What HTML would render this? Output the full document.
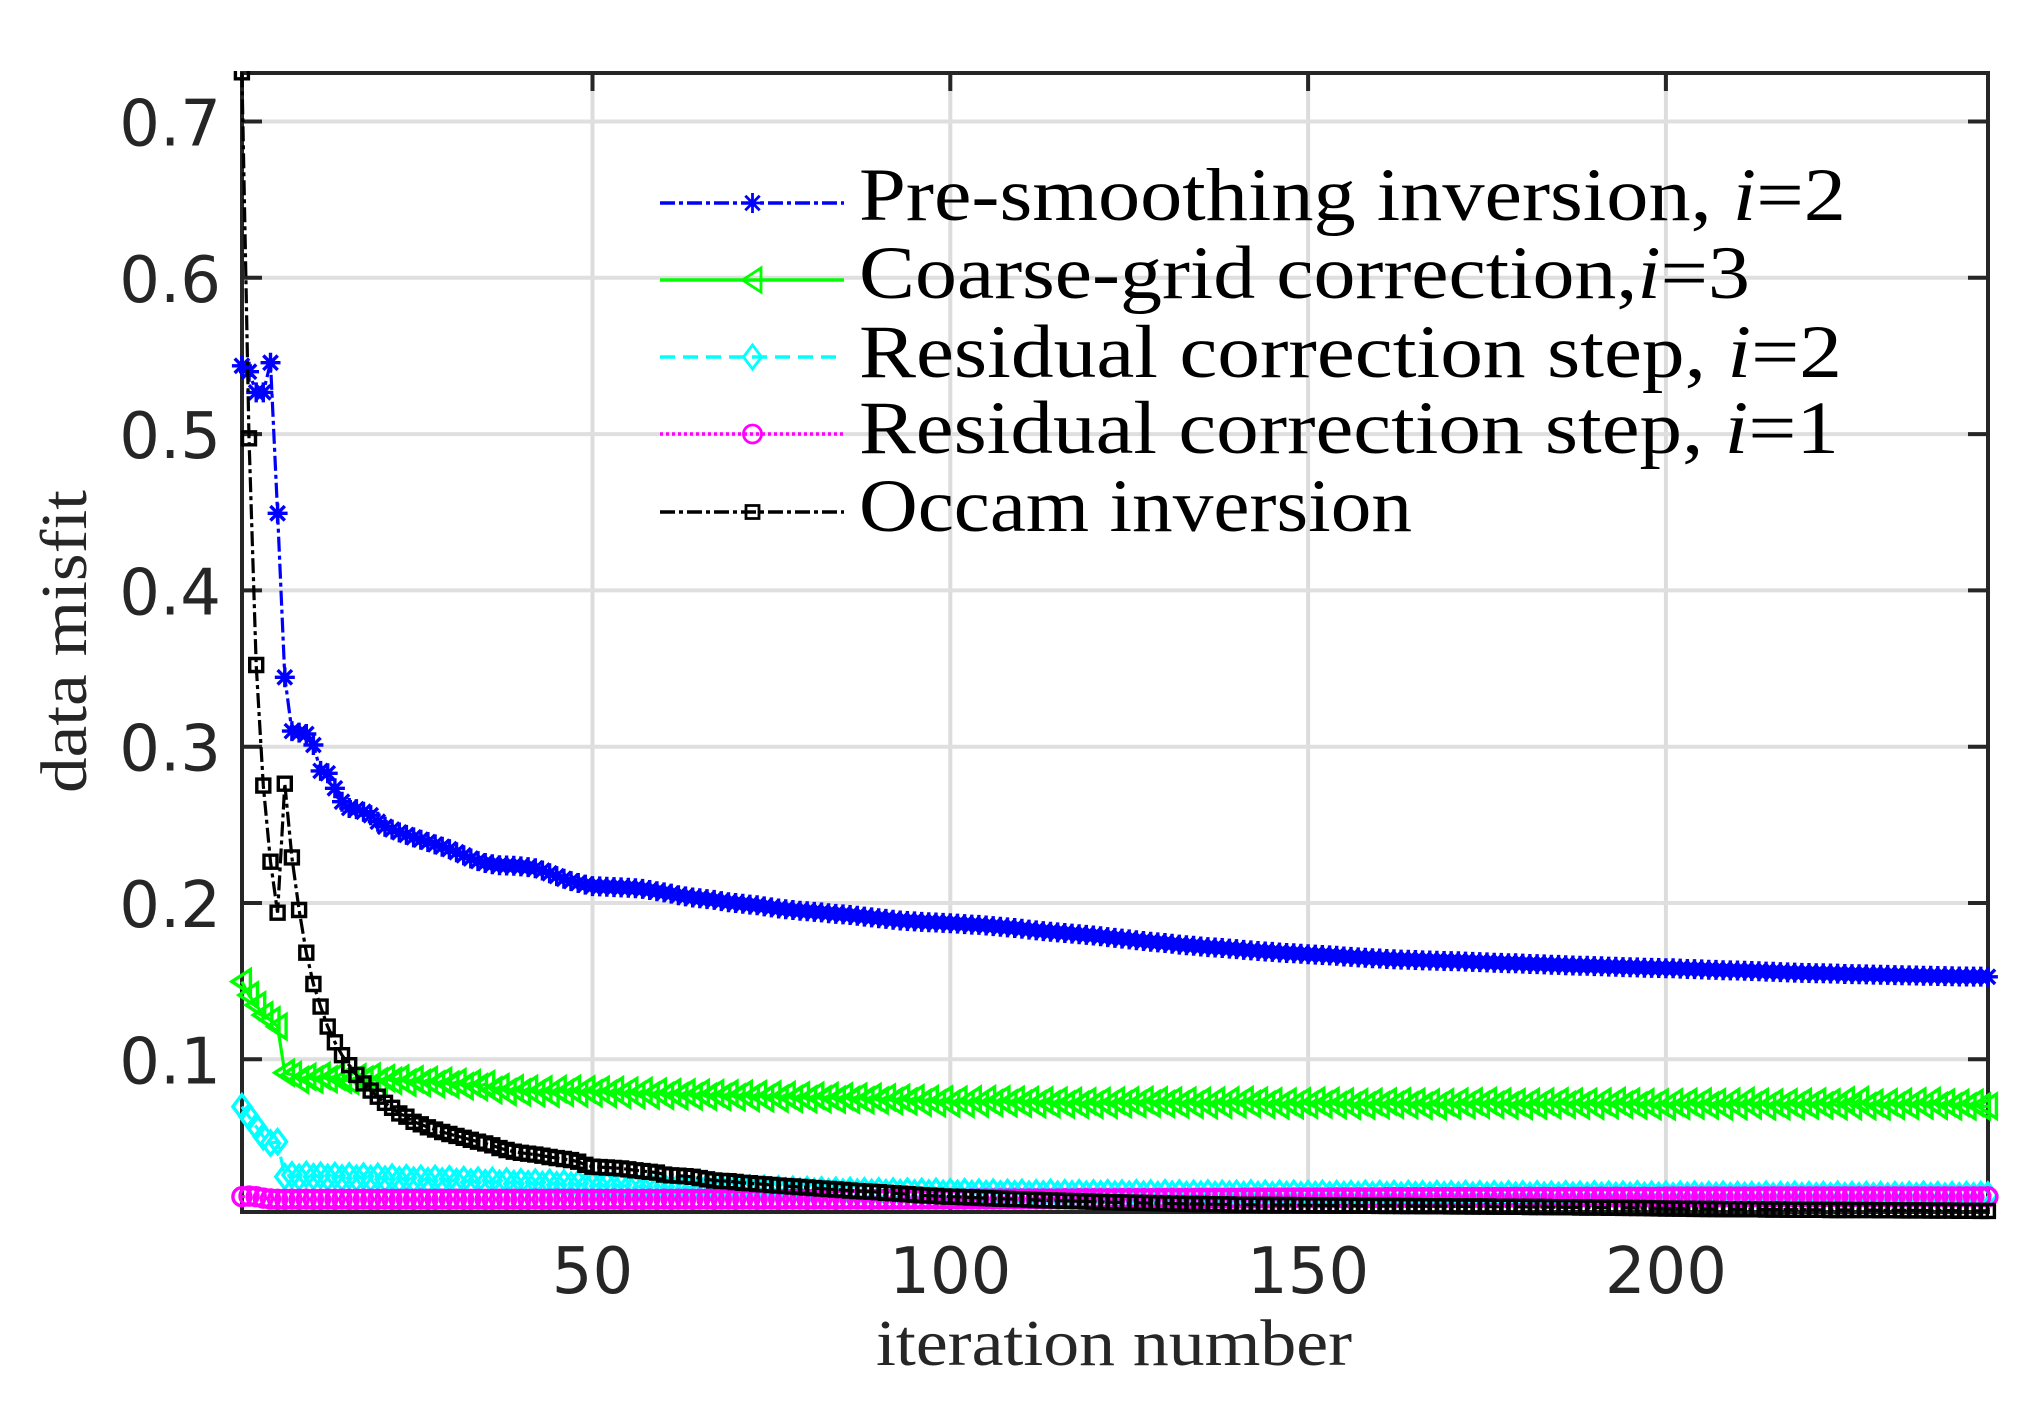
<!DOCTYPE html>
<html lang="en">
<head>
<meta charset="utf-8">
<title>Data misfit vs iteration number</title>
<style>
html,body{margin:0;padding:0;background:#fff;width:2028px;height:1406px;overflow:hidden}
svg{display:block}
.tick{font-family:"DejaVu Sans",sans-serif;font-size:64px;fill:#262626}
.axt{font-family:"Liberation Serif",serif;font-size:66px;fill:#262626}
.leg{font-family:"Liberation Serif",serif;font-size:75px;fill:#000}
</style>
</head>
<body>
<svg id="chart" xmlns="http://www.w3.org/2000/svg" width="2028" height="1406" viewBox="0 0 2028 1406">
  <defs>
    <clipPath id="top-clip"><rect x="0" y="71" width="2028" height="1335"/></clipPath>
  </defs>
  <rect x="0" y="0" width="2028" height="1406" fill="#fff"/>
  <g id="grid"></g>
  <g id="ticks"></g>
  <rect x="242" y="73" width="1746" height="1139" fill="none" stroke="#262626" stroke-width="4"/>
  <g id="labels"></g>
  <text class="axt" x="876" y="1365" textLength="476" lengthAdjust="spacingAndGlyphs">iteration number</text>
  <text class="axt" transform="translate(86,793) rotate(-90)" x="0" y="0" textLength="303" lengthAdjust="spacingAndGlyphs">data misfit</text>
  <g id="series" clip-path="url(#top-clip)"></g>
  <g id="legend">
    <text class="leg" x="859" y="220" textLength="987" lengthAdjust="spacingAndGlyphs">Pre-smoothing inversion, <tspan font-style="italic">i</tspan>=2</text>
    <text class="leg" x="859" y="298" textLength="891" lengthAdjust="spacingAndGlyphs">Coarse-grid correction,<tspan font-style="italic">i</tspan>=3</text>
    <text class="leg" x="859" y="377" textLength="983" lengthAdjust="spacingAndGlyphs">Residual correction step, <tspan font-style="italic">i</tspan>=2</text>
    <text class="leg" x="859" y="453" textLength="980" lengthAdjust="spacingAndGlyphs">Residual correction step, <tspan font-style="italic">i</tspan>=1</text>
    <text class="leg" x="859" y="531" textLength="553" lengthAdjust="spacingAndGlyphs">Occam inversion</text>
  </g>
</svg>
<script>
const xTicks = [50, 100, 150, 200];
const yTicks = [0.1, 0.2, 0.3, 0.4, 0.5, 0.6, 0.7];
const yTickLabels = ["0.1", "0.2", "0.3", "0.4", "0.5", "0.6", "0.7"];

const preSmoothing = [
.5437,.5399,.5267,.5267,.5457,.4493,.3444,.3100,.3090,.3081,
.3011,.2845,.2830,.2734,.2648,.2608,.2601,.2584,.2562,.2520,
.2488,.2470,.2452,.2436,.2420,.2405,.2390,.2375,.2360,.2345,
.2325,.2305,.2285,.2268,.2256,.2248,.2242,.2240,.2238,.2234,
.2230,.2222,.2208,.2190,.2172,.2155,.2140,.2128,.2118,.2108,
.2106,.2104,.2102,.2100,.2098,.2095,.2090,.2083,.2075,.2068,
.2060,.2050,.2042,.2035,.2030,.2025,.2020,.2012,.2005,.2000,
.1995,.1990,.1985,.1978,.1972,.1965,.1960,.1955,.1950,.1947,
.1943,.1940,.1935,.1930,.1927,.1923,.1918,.1913,.1908,.1903,
.1898,.1893,.1888,.1885,.1882,.1879,.1877,.1875,.1873,.1871,
.1868,.1865,.1862,.1860,.1856,.1852,.1848,.1844,.1840,.1835,
.1830,.1825,.1820,.1816,.1812,.1808,.1804,.1800,.1796,.1792,
.1787,.1782,.1777,.1772,.1767,.1762,.1757,.1752,.1748,.1744,
.1739,.1734,.1730,.1727,.1722,.1718,.1715,.1712,.1708,.1705,
.1700,.1697,.1693,.1690,.1687,.1683,.1680,.1678,.1675,.1672,
.1670,.1667,.1665,.1662,.1658,.1655,.1652,.1650,.1647,.1645,
.1642,.1640,.1638,.1637,.1635,.1633,.1632,.1630,.1629,.1628,
.1627,.1625,.1623,.1622,.1620,.1618,.1617,.1615,.1614,.1612,
.1610,.1609,.1607,.1605,.1604,.1602,.1600,.1599,.1598,.1596,
.1595,.1593,.1592,.1590,.1589,.1588,.1586,.1585,.1584,.1583,
.1582,.1580,.1578,.1577,.1575,.1573,.1572,.1570,.1569,.1568,
.1566,.1565,.1563,.1561,.1560,.1558,.1556,.1555,.1553,.1552,
.1551,.1550,.1549,.1548,.1546,.1545,.1544,.1543,.1542,.1541,
.1540,.1539,.1538,.1537,.1536,.1535,.1534,.1533,.1532,.1531,
.1530,.1530,.1529,.1529,.1528
];

const coarseGrid = [
.1497,.1411,.1347,.1283,.1251,.1209,.0914,.0900,.0868,.0888,
.0870,.0895,.0872,.0892,.0868,.0862,.0885,.0870,.0890,.0858,
.0880,.0862,.0878,.0850,.0872,.0848,.0868,.0840,.0862,.0838,
.0855,.0828,.0848,.0822,.0842,.0802,.0822,.0790,.0815,.0788,
.0812,.0782,.0808,.0780,.0810,.0785,.0812,.0780,.0808,.0782,
.0806,.0778,.0804,.0772,.0800,.0770,.0798,.0768,.0794,.0766,
.0790,.0764,.0788,.0762,.0786,.0760,.0784,.0758,.0782,.0756,
.0780,.0752,.0778,.0750,.0776,.0748,.0772,.0746,.0770,.0744,
.0768,.0744,.0766,.0742,.0764,.0740,.0762,.0738,.0760,.0736,
.0756,.0732,.0754,.0730,.0752,.0722,.0746,.0718,.0744,.0716,
.0742,.0714,.0744,.0716,.0746,.0720,.0744,.0718,.0742,.0716,
.0740,.0712,.0738,.0712,.0736,.0710,.0734,.0708,.0732,.0708,
.0734,.0708,.0736,.0712,.0738,.0714,.0740,.0716,.0738,.0714,
.0736,.0710,.0736,.0708,.0734,.0706,.0736,.0708,.0738,.0712,
.0740,.0714,.0736,.0708,.0732,.0704,.0730,.0706,.0732,.0708,
.0736,.0710,.0734,.0706,.0730,.0702,.0726,.0704,.0728,.0706,
.0730,.0708,.0732,.0706,.0728,.0702,.0724,.0700,.0726,.0704,
.0730,.0706,.0732,.0708,.0734,.0708,.0730,.0704,.0726,.0702,
.0728,.0704,.0730,.0706,.0732,.0708,.0730,.0704,.0728,.0702,
.0730,.0706,.0734,.0708,.0730,.0704,.0726,.0700,.0724,.0698,
.0726,.0702,.0728,.0704,.0730,.0704,.0726,.0698,.0730,.0700,
.0734,.0704,.0728,.0698,.0724,.0700,.0726,.0702,.0728,.0704,
.0730,.0704,.0726,.0700,.0738,.0700,.0740,.0700,.0722,.0698,
.0726,.0702,.0728,.0702,.0732,.0704,.0734,.0702,.0724,.0698,
.0722,.0698,.0722,.0698,.0700
];

const residualTwo = [
.0697,.0633,.0569,.0505,.0464,.0473,.0249,.0260,.0245,.0262,
.0248,.0258,.0244,.0256,.0240,.0254,.0238,.0252,.0236,.0250,
.0232,.0246,.0228,.0242,.0226,.0238,.0222,.0238,.0220,.0234,
.0216,.0230,.0214,.0226,.0210,.0224,.0206,.0220,.0204,.0216,
.0202,.0214,.0198,.0212,.0196,.0208,.0194,.0206,.0190,.0202,
.0188,.0200,.0184,.0198,.0182,.0194,.0178,.0192,.0176,.0188,
.0174,.0186,.0172,.0184,.0170,.0182,.0168,.0180,.0166,.0178,
.0164,.0176,.0162,.0174,.0160,.0170,.0158,.0168,.0156,.0166,
.0154,.0164,.0152,.0162,.0150,.0160,.0150,.0158,.0148,.0158,
.0146,.0156,.0146,.0156,.0144,.0154,.0144,.0154,.0142,.0152,
.0142,.0152,.0140,.0150,.0140,.0150,.0138,.0148,.0138,.0148,
.0136,.0146,.0138,.0148,.0136,.0146,.0138,.0146,.0136,.0144,
.0138,.0146,.0136,.0144,.0136,.0146,.0136,.0144,.0134,.0146,
.0136,.0144,.0134,.0142,.0136,.0144,.0134,.0142,.0136,.0142,
.0134,.0144,.0134,.0142,.0132,.0142,.0134,.0142,.0132,.0140,
.0134,.0142,.0132,.0140,.0134,.0140,.0132,.0142,.0132,.0140,
.0132,.0140,.0130,.0140,.0132,.0138,.0130,.0140,.0132,.0138,
.0130,.0140,.0130,.0138,.0130,.0138,.0130,.0138,.0130,.0138,
.0128,.0138,.0130,.0136,.0128,.0138,.0130,.0136,.0128,.0138,
.0128,.0136,.0128,.0136,.0128,.0138,.0128,.0136,.0128,.0136,
.0126,.0136,.0128,.0136,.0126,.0134,.0128,.0136,.0126,.0134,
.0128,.0134,.0126,.0136,.0126,.0134,.0128,.0136,.0126,.0134,
.0126,.0134,.0126,.0136,.0126,.0134,.0126,.0134,.0126,.0134,
.0124,.0134,.0126,.0134,.0126,.0136,.0126,.0134,.0124,.0134,
.0126,.0134,.0126,.0134,.0132
];

const residualOne = [
.0121,.0125,.0121,.0112,.0106,.0104,.0104,.0105,.0104,.0105,
.0104,.0104,.0105,.0104,.0105,.0104,.0104,.0105,.0104,.0104,
.0105,.0104,.0104,.0105,.0104,.0105,.0104,.0104,.0105,.0104,
.0105,.0104,.0104,.0105,.0104,.0104,.0105,.0104,.0105,.0104,
.0104,.0105,.0104,.0104,.0105,.0104,.0105,.0104,.0104,.0105,
.0104,.0104,.0105,.0104,.0105,.0104,.0104,.0105,.0104,.0105,
.0104,.0105,.0105,.0104,.0105,.0105,.0104,.0105,.0105,.0104,
.0105,.0105,.0104,.0105,.0105,.0104,.0105,.0105,.0105,.0104,
.0105,.0105,.0105,.0104,.0105,.0105,.0105,.0105,.0104,.0105,
.0105,.0105,.0105,.0105,.0105,.0105,.0106,.0105,.0105,.0106,
.0106,.0105,.0106,.0106,.0106,.0106,.0106,.0107,.0106,.0106,
.0107,.0107,.0107,.0107,.0107,.0108,.0107,.0108,.0108,.0108,
.0108,.0108,.0108,.0109,.0109,.0109,.0109,.0109,.0110,.0110,
.0110,.0110,.0110,.0110,.0111,.0111,.0111,.0111,.0111,.0111,
.0112,.0112,.0112,.0112,.0112,.0112,.0112,.0113,.0113,.0113,
.0113,.0113,.0113,.0114,.0114,.0114,.0114,.0114,.0114,.0114,
.0115,.0115,.0115,.0115,.0115,.0115,.0115,.0115,.0116,.0116,
.0116,.0116,.0116,.0116,.0116,.0116,.0116,.0117,.0117,.0117,
.0117,.0117,.0117,.0117,.0117,.0117,.0117,.0118,.0118,.0118,
.0118,.0118,.0118,.0118,.0118,.0118,.0118,.0118,.0118,.0119,
.0119,.0119,.0119,.0119,.0119,.0119,.0119,.0119,.0119,.0119,
.0119,.0119,.0120,.0120,.0120,.0120,.0120,.0120,.0120,.0120,
.0120,.0120,.0120,.0120,.0120,.0120,.0120,.0120,.0120,.0120,
.0120,.0120,.0120,.0120,.0120,.0120,.0120,.0120,.0120,.0120,
.0120,.0120,.0120,.0120,.0120
];

const occam = [
.7315,.4973,.3523,.2751,.2264,.1938,.2763,.2292,.1955,.1682,
.1482,.1337,.1209,.1109,.1026,.0962,.0900,.0846,.0800,.0761,
.0722,.0690,.0654,.0633,.0600,.0584,.0565,.0550,.0535,.0522,
.0510,.0498,.0485,.0473,.0462,.0450,.0432,.0420,.0409,.0402,
.0396,.0390,.0383,.0375,.0368,.0362,.0355,.0345,.0325,.0313,
.0310,.0308,.0305,.0302,.0296,.0290,.0285,.0280,.0275,.0262,
.0258,.0255,.0252,.0248,.0240,.0232,.0225,.0222,.0220,.0215,
.0210,.0207,.0203,.0200,.0196,.0192,.0189,.0186,.0183,.0180,
.0176,.0173,.0170,.0167,.0164,.0160,.0157,.0155,.0152,.0150,
.0146,.0143,.0140,.0137,.0134,.0130,.0128,.0126,.0123,.0121,
.0120,.0118,.0116,.0113,.0112,.0110,.0108,.0107,.0105,.0104,
.0102,.0100,.0098,.0097,.0096,.0094,.0093,.0092,.0090,.0089,
.0087,.0086,.0085,.0084,.0083,.0082,.0081,.0080,.0079,.0078,
.0077,.0076,.0075,.0074,.0074,.0073,.0072,.0072,.0071,.0070,
.0070,.0069,.0069,.0068,.0068,.0067,.0067,.0067,.0066,.0066,
.0065,.0065,.0065,.0064,.0064,.0064,.0063,.0063,.0063,.0062,
.0062,.0062,.0061,.0061,.0061,.0060,.0060,.0060,.0060,.0059,
.0059,.0059,.0058,.0058,.0058,.0057,.0057,.0057,.0056,.0056,
.0055,.0055,.0055,.0054,.0054,.0053,.0053,.0052,.0052,.0051,
.0051,.0050,.0050,.0049,.0049,.0048,.0048,.0047,.0046,.0045,
.0045,.0044,.0044,.0043,.0043,.0042,.0042,.0041,.0041,.0041,
.0040,.0040,.0040,.0039,.0039,.0039,.0038,.0038,.0038,.0037,
.0037,.0037,.0036,.0036,.0036,.0035,.0035,.0035,.0035,.0034,
.0034,.0034,.0033,.0033,.0033,.0033,.0032,.0032,.0032,.0032,
.0031,.0031,.0031,.0030,.0030
];

const NS = 'http://www.w3.org/2000/svg';
function xScale(v) { return 950.3 + (v - 100) * 7.156; }
function yScale(v) { return 1059.3 - (v - 0.1) * 1563; }

function mk(parent, tag, attrs) {
  const el = document.createElementNS(NS, tag);
  for (const k in attrs) el.setAttribute(k, attrs[k]);
  parent.appendChild(el);
  return el;
}

function markerPath(kind, x, y) {
  const f = n => n.toFixed(1);
  if (kind === 'star') {
    const r = 10, d = 7.2;
    return `M${f(x-r)} ${f(y)}H${f(x+r)}M${f(x)} ${f(y-r)}V${f(y+r)}M${f(x-d)} ${f(y-d)}L${f(x+d)} ${f(y+d)}M${f(x-d)} ${f(y+d)}L${f(x+d)} ${f(y-d)}`;
  }
  if (kind === 'triangle') {
    return `M${f(x-10)} ${f(y)}L${f(x+8.5)} ${f(y-12)}V${f(y+12)}Z`;
  }
  if (kind === 'diamond') {
    return `M${f(x-9)} ${f(y)}L${f(x)} ${f(y-12)}L${f(x+9)} ${f(y)}L${f(x)} ${f(y+12)}Z`;
  }
  if (kind === 'circle') {
    const r = 9;
    return `M${f(x-r)} ${f(y)}A${r} ${r} 0 1 1 ${f(x+r)} ${f(y)}A${r} ${r} 0 1 1 ${f(x-r)} ${f(y)}Z`;
  }
  return `M${f(x-6.5)} ${f(y-6.5)}H${f(x+6.5)}V${f(y+6.5)}H${f(x-6.5)}Z`;
}

const grid = document.getElementById('grid');
const ticks = document.getElementById('ticks');
const labels = document.getElementById('labels');

xTicks.forEach(v => {
  const x = xScale(v);
  const g = mk(grid, 'line', {x1: x, x2: x, y1: 73, y2: 1212, stroke: '#dcdcdc', 'stroke-width': 4});
  
  
  [[73, 91], [1212, 1194]].forEach(p => {
    const t = mk(ticks, 'line', {x1: x, x2: x, y1: p[0], y2: p[1], stroke: '#262626', 'stroke-width': 4});
    
    
  });
  const lab = mk(labels, 'text', {x: x, y: 1293, 'text-anchor': 'middle', class: 'tick'});
  
  
  lab.textContent = String(v);
});

yTicks.forEach((v, i) => {
  const y = yScale(v);
  const g = mk(grid, 'line', {x1: 242, x2: 1988, y1: y, y2: y, stroke: '#dfdfdf', 'stroke-width': 4});
  
  
  [[242, 262], [1988, 1968]].forEach(p => {
    const t = mk(ticks, 'line', {x1: p[0], x2: p[1], y1: y, y2: y, stroke: '#262626', 'stroke-width': 4});
    
    
  });
  const lab = mk(labels, 'text', {x: 221, y: y + 24, 'text-anchor': 'end', class: 'tick'});
  
  
  lab.textContent = yTickLabels[i];
});

const seriesList = [
  {key: 'pre-smoothing', values: preSmoothing, color: '#0000ff', dash: '15 4 4 4', kind: 'star', legendY: 203},
  {key: 'coarse-grid', values: coarseGrid, color: '#00ff00', dash: 'none', kind: 'triangle', legendY: 280},
  {key: 'residual-2', values: residualTwo, color: '#00ffff', dash: '15 8', kind: 'diamond', legendY: 357},
  {key: 'residual-1', values: residualOne, color: '#ff00ff', dash: '3 3', kind: 'circle', legendY: 434},
  {key: 'occam', values: occam, color: '#000000', dash: '15 4 4 4', kind: 'square', legendY: 512}
];

const seriesGroup = document.getElementById('series');
const legendGroup = document.getElementById('legend');

seriesList.forEach(s => {
  const g = mk(seriesGroup, 'g', {});
  
  
  const pts = s.values.map((v, i) => xScale(i + 1).toFixed(1) + ',' + yScale(v).toFixed(1)).join(' ');
  const line = mk(g, 'polyline', {points: pts, fill: 'none', stroke: s.color, 'stroke-width': 3.2, 'stroke-dasharray': s.dash});
  
  
  s.values.forEach((v, i) => {
    const m = mk(g, 'path', {d: markerPath(s.kind, xScale(i + 1), yScale(v)), fill: 'none', stroke: s.color, 'stroke-width': 3.4});
    
    
  });

  const lg = mk(legendGroup, 'line', {x1: 660, x2: 844, y1: s.legendY, y2: s.legendY, stroke: s.color, 'stroke-width': 3.6, 'stroke-dasharray': s.dash});
  
  
  const lm = mk(legendGroup, 'path', {d: markerPath(s.kind, 752.5, s.legendY), fill: 'none', stroke: s.color, 'stroke-width': 2.8});
  
  
});
</script>
</body>
</html>
